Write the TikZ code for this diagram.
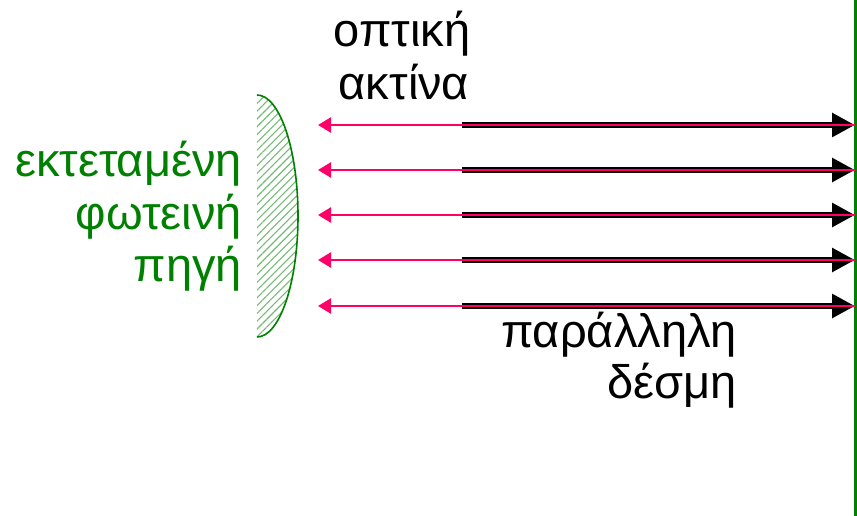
\documentclass[tikz,border=0pt]{standalone}
\usepackage{fontspec}
\setmainfont{Liberation Sans}
\usetikzlibrary{arrows.meta,patterns.meta}
\definecolor{ray}{RGB}{255,0,102}
\definecolor{src}{RGB}{0,128,0}
\tikzset{
  lbl/.style={font=\fontsize{47}{52}\selectfont, inner sep=0pt},
  beam/.style={line width=6.5pt, -{Triangle[length=23pt,width=23pt]}},
  rayline/.style={ray, line width=2.6pt, -{Triangle[length=13pt,width=15pt]}},
  hatch/.style={pattern={Lines[angle=45,distance=5.5pt,line width=1.1pt]}, pattern color=src!55},
}
\begin{document}
\begin{tikzpicture}[x=1pt,y=-1pt]
\useasboundingbox (0,0) rectangle (857,516);
% screen
\coordinate (st) at (855.5,0);
\coordinate (sb) at (855.5,516);
\draw[src, line width=3pt] (st) -- (sb);
% source
\fill[hatch] (257,95) arc[start angle=-90, end angle=90, x radius=41, y radius=121] -- cycle;
\draw[src, line width=1.6pt] (257,95) arc[start angle=-90, end angle=90, x radius=41, y radius=121];
% rays
\foreach \i/\y in {1/125,2/170,3/215,4/260,5/306}{
  \coordinate (L\i) at (318,\y);
  \coordinate (M\i) at (462,\y);
  \coordinate (R\i) at (855,\y);
  \draw[beam] (M\i) -- (R\i);
  \draw[rayline] (R\i) -- (L\i);
}
% labels
\node[lbl, anchor=base] (opt1) at (402,47) {οπτική};
\node[lbl, anchor=base] (opt2) at (404,100) {ακτίνα};
\node[lbl, src, anchor=base east] (src1) at (242,177) {εκτεταμένη};
\node[lbl, src, anchor=base east] (src2) at (242,229) {φωτεινή};
\node[lbl, src, anchor=base east] (src3) at (242,281) {πηγή};
\node[lbl, anchor=base east] (par1) at (737,347) {παράλληλη};
\node[lbl, anchor=base east] (par2) at (737,398) {δέσμη};
\end{tikzpicture}
\end{document}
